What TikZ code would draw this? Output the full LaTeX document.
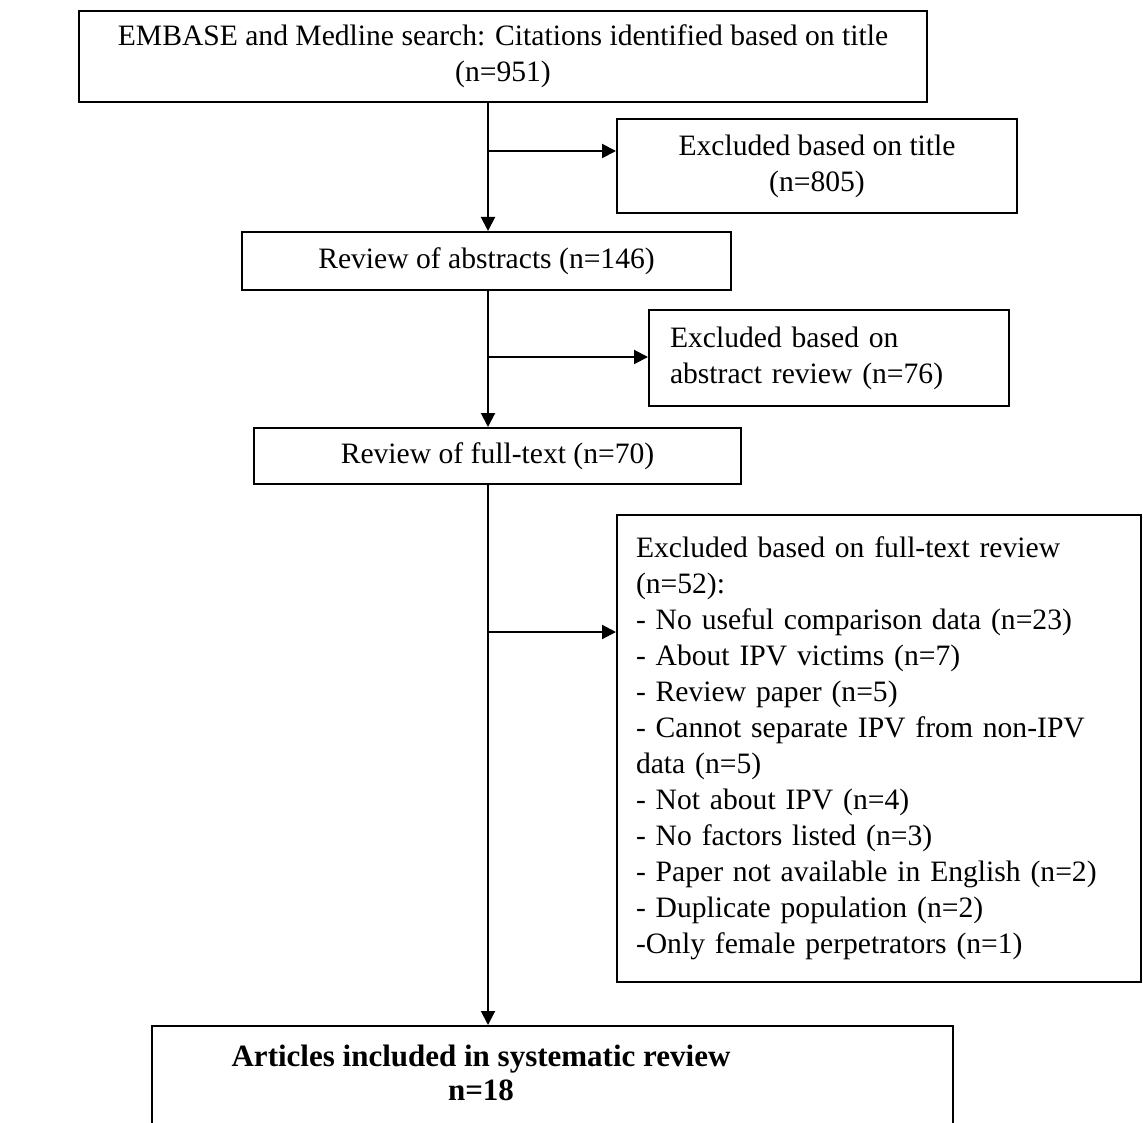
\documentclass[tikz,border=0pt]{standalone}
\usepackage{fontspec}
\setmainfont{Liberation Serif}
\usepackage{tikz}
\usetikzlibrary{arrows.meta}
\tikzset{%
 >={Triangle[length=7pt, width=7pt]}
}
\tikzset{%
 flowbox/.style={draw, line width=1pt, font=\fontsize{14.8}{18}\selectfont, align=center, inner sep=0pt},
 listbox/.style={flowbox, align=left}
}

\begin{document}
\begin{tikzpicture}[x=.5pt, y=-.5pt, line width=1pt]
 \useasboundingbox (0,0) rectangle (1143,1122);
 \clip (0,0) rectangle (1143,1122);

 % main column
 \node [flowbox, minimum width=424pt, minimum height=45.5pt] (search) at (503,56.5)
  {EMBASE and Medline search: Citations identified based on title\\(n=951)};
 \node [flowbox, minimum width=244.5pt, minimum height=29pt] (abstracts) at (486.5,261)
  {Review of abstracts (n=146)};
 \node [flowbox, minimum width=243.5pt, minimum height=28pt] (fulltext) at (497.5,456)
  {Review of full-text (n=70)};
 \node [flowbox, minimum width=400.5pt, minimum height=52pt] (included) at (552.5,1078) {};
 \node [align=center, inner sep=0pt, font=\fontsize{15.5}{17}\selectfont\bfseries] (inclabel) at (481,1073)
  {Articles included in systematic review\\n=18};

 % exclusions
 \node [flowbox, minimum width=200pt, minimum height=47pt] (extitle) at (817,166)
  {Excluded based on title\\(n=805)};
 \node [listbox, text width=159pt, inner xsep=10.5pt, minimum height=48pt] (exabstract) at (829,358)
  {Excluded based on\\abstract review (n=76)};
 \node [listbox, text width=243pt, inner xsep=9.5pt, minimum height=233.5pt] (exfull) at (879,748.5)
  {Excluded based on full-text review\\
   (n=52):\\
   - No useful comparison data (n=23)\\
   - About IPV victims (n=7)\\
   - Review paper (n=5)\\
   - Cannot separate IPV from non-IPV\\
   data (n=5)\\
   - Not about IPV (n=4)\\
   - No factors listed (n=3)\\
   - Paper not available in English (n=2)\\
   - Duplicate population (n=2)\\
   -Only female perpetrators (n=1)};

 % connectors
 \coordinate (brA) at (488,151);
 \coordinate (brB) at (488,357);
 \coordinate (brC) at (488,632);
 \draw [->] (search.south -| brA) -- (abstracts.north -| brA);
 \draw [->] (brA) -- (brA -| extitle.west);
 \draw [->] (abstracts.south -| brB) -- (fulltext.north -| brB);
 \draw [->] (brB) -- (brB -| exabstract.west);
 \draw [->] (fulltext.south -| brC) -- (included.north -| brC);
 \draw [->] (brC) -- (brC -| exfull.west);
\end{tikzpicture}
\end{document}
